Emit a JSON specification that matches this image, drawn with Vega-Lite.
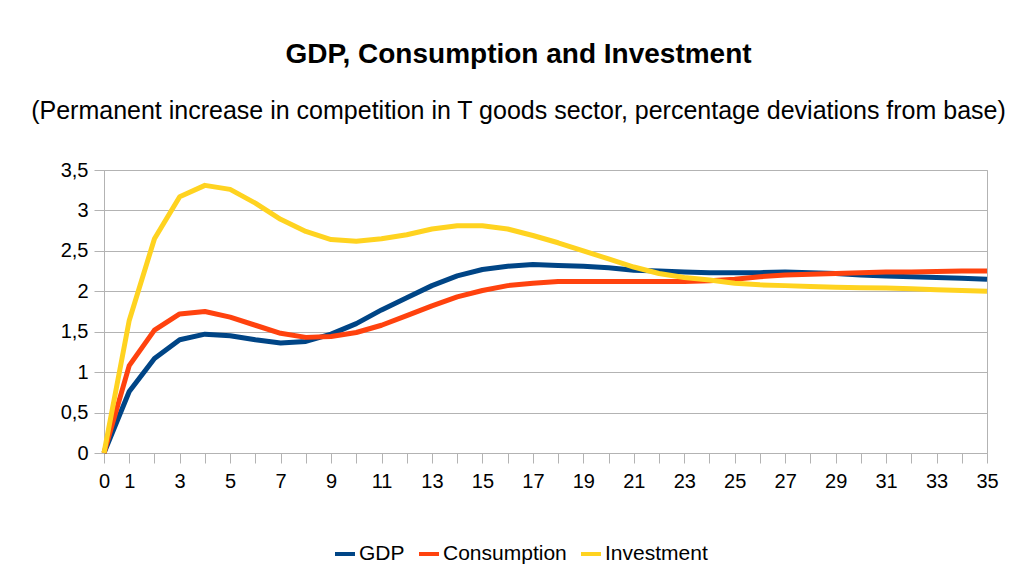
{
  "$schema": "https://vega.github.io/schema/vega-lite/v6.json",
  "width": 883,
  "height": 283,
  "autosize": {"type": "none"},
  "padding": {"left": 104, "top": 170, "right": 42, "bottom": 129},
  "background": "white",
  "title": {
    "text": "GDP, Consumption and Investment",
    "subtitle": "(Permanent increase in competition in T goods sector, percentage deviations from base)",
    "anchor": "middle",
    "dx": -27,
    "font": "Liberation Sans",
    "fontSize": 28,
    "fontWeight": "bold",
    "color": "black",
    "subtitleFont": "Liberation Sans",
    "subtitleFontSize": 25,
    "subtitleColor": "black",
    "subtitlePadding": 30,
    "offset": 36
  },
  "datasets": {
    "series": [
      {"series": "GDP", "t": 0, "value": 0}, {"series": "GDP", "t": 1, "value": 0.76}, {"series": "GDP", "t": 2, "value": 1.17}, {"series": "GDP", "t": 3, "value": 1.40}, {"series": "GDP", "t": 4, "value": 1.47}, {"series": "GDP", "t": 5, "value": 1.45}, {"series": "GDP", "t": 6, "value": 1.40}, {"series": "GDP", "t": 7, "value": 1.36}, {"series": "GDP", "t": 8, "value": 1.38}, {"series": "GDP", "t": 9, "value": 1.47}, {"series": "GDP", "t": 10, "value": 1.60}, {"series": "GDP", "t": 11, "value": 1.77}, {"series": "GDP", "t": 12, "value": 1.92}, {"series": "GDP", "t": 13, "value": 2.07}, {"series": "GDP", "t": 14, "value": 2.19}, {"series": "GDP", "t": 15, "value": 2.27}, {"series": "GDP", "t": 16, "value": 2.31}, {"series": "GDP", "t": 17, "value": 2.33}, {"series": "GDP", "t": 18, "value": 2.32}, {"series": "GDP", "t": 19, "value": 2.31}, {"series": "GDP", "t": 20, "value": 2.29}, {"series": "GDP", "t": 21, "value": 2.26}, {"series": "GDP", "t": 22, "value": 2.25}, {"series": "GDP", "t": 23, "value": 2.24}, {"series": "GDP", "t": 24, "value": 2.23}, {"series": "GDP", "t": 25, "value": 2.23}, {"series": "GDP", "t": 26, "value": 2.23}, {"series": "GDP", "t": 27, "value": 2.24}, {"series": "GDP", "t": 28, "value": 2.23}, {"series": "GDP", "t": 29, "value": 2.22}, {"series": "GDP", "t": 30, "value": 2.20}, {"series": "GDP", "t": 31, "value": 2.19}, {"series": "GDP", "t": 32, "value": 2.18}, {"series": "GDP", "t": 33, "value": 2.17}, {"series": "GDP", "t": 34, "value": 2.16}, {"series": "GDP", "t": 35, "value": 2.15},
      {"series": "Consumption", "t": 0, "value": 0}, {"series": "Consumption", "t": 1, "value": 1.08}, {"series": "Consumption", "t": 2, "value": 1.52}, {"series": "Consumption", "t": 3, "value": 1.72}, {"series": "Consumption", "t": 4, "value": 1.75}, {"series": "Consumption", "t": 5, "value": 1.68}, {"series": "Consumption", "t": 6, "value": 1.58}, {"series": "Consumption", "t": 7, "value": 1.48}, {"series": "Consumption", "t": 8, "value": 1.43}, {"series": "Consumption", "t": 9, "value": 1.44}, {"series": "Consumption", "t": 10, "value": 1.49}, {"series": "Consumption", "t": 11, "value": 1.58}, {"series": "Consumption", "t": 12, "value": 1.70}, {"series": "Consumption", "t": 13, "value": 1.82}, {"series": "Consumption", "t": 14, "value": 1.93}, {"series": "Consumption", "t": 15, "value": 2.01}, {"series": "Consumption", "t": 16, "value": 2.07}, {"series": "Consumption", "t": 17, "value": 2.10}, {"series": "Consumption", "t": 18, "value": 2.12}, {"series": "Consumption", "t": 19, "value": 2.12}, {"series": "Consumption", "t": 20, "value": 2.12}, {"series": "Consumption", "t": 21, "value": 2.12}, {"series": "Consumption", "t": 22, "value": 2.12}, {"series": "Consumption", "t": 23, "value": 2.12}, {"series": "Consumption", "t": 24, "value": 2.13}, {"series": "Consumption", "t": 25, "value": 2.15}, {"series": "Consumption", "t": 26, "value": 2.18}, {"series": "Consumption", "t": 27, "value": 2.20}, {"series": "Consumption", "t": 28, "value": 2.21}, {"series": "Consumption", "t": 29, "value": 2.22}, {"series": "Consumption", "t": 30, "value": 2.23}, {"series": "Consumption", "t": 31, "value": 2.24}, {"series": "Consumption", "t": 32, "value": 2.24}, {"series": "Consumption", "t": 33, "value": 2.245}, {"series": "Consumption", "t": 34, "value": 2.25}, {"series": "Consumption", "t": 35, "value": 2.25},
      {"series": "Investment", "t": 0, "value": 0}, {"series": "Investment", "t": 1, "value": 1.64}, {"series": "Investment", "t": 2, "value": 2.65}, {"series": "Investment", "t": 3, "value": 3.17}, {"series": "Investment", "t": 4, "value": 3.31}, {"series": "Investment", "t": 5, "value": 3.26}, {"series": "Investment", "t": 6, "value": 3.09}, {"series": "Investment", "t": 7, "value": 2.89}, {"series": "Investment", "t": 8, "value": 2.74}, {"series": "Investment", "t": 9, "value": 2.64}, {"series": "Investment", "t": 10, "value": 2.62}, {"series": "Investment", "t": 11, "value": 2.65}, {"series": "Investment", "t": 12, "value": 2.70}, {"series": "Investment", "t": 13, "value": 2.77}, {"series": "Investment", "t": 14, "value": 2.81}, {"series": "Investment", "t": 15, "value": 2.81}, {"series": "Investment", "t": 16, "value": 2.77}, {"series": "Investment", "t": 17, "value": 2.69}, {"series": "Investment", "t": 18, "value": 2.60}, {"series": "Investment", "t": 19, "value": 2.50}, {"series": "Investment", "t": 20, "value": 2.40}, {"series": "Investment", "t": 21, "value": 2.30}, {"series": "Investment", "t": 22, "value": 2.22}, {"series": "Investment", "t": 23, "value": 2.17}, {"series": "Investment", "t": 24, "value": 2.14}, {"series": "Investment", "t": 25, "value": 2.10}, {"series": "Investment", "t": 26, "value": 2.08}, {"series": "Investment", "t": 27, "value": 2.07}, {"series": "Investment", "t": 28, "value": 2.06}, {"series": "Investment", "t": 29, "value": 2.05}, {"series": "Investment", "t": 30, "value": 2.045}, {"series": "Investment", "t": 31, "value": 2.04}, {"series": "Investment", "t": 32, "value": 2.03}, {"series": "Investment", "t": 33, "value": 2.02}, {"series": "Investment", "t": 34, "value": 2.01}, {"series": "Investment", "t": 35, "value": 2.00}
    ]
  },
  "data": {"name": "series"},
  "mark": {"type": "line", "strokeWidth": 5, "strokeJoin": "round"},
  "encoding": {
    "x": {
      "field": "t",
      "type": "quantitative",
      "scale": {"domain": [0, 35], "nice": false, "zero": false},
      "axis": {
        "title": null,
        "grid": false,
        "values": [0,1,2,3,4,5,6,7,8,9,10,11,12,13,14,15,16,17,18,19,20,21,22,23,24,25,26,27,28,29,30,31,32,33,34,35],
        "labelExpr": "datum.value == 0 || datum.value % 2 == 1 ? format(datum.value, 'd') : ''",
        "labelOverlap": false,
        "labelFlush": false,
        "tickSize": 10,
        "labelPadding": 8
      }
    },
    "y": {
      "field": "value",
      "type": "quantitative",
      "scale": {"domain": [0, 3.5], "nice": false},
      "axis": {
        "title": null,
        "grid": true,
        "values": [0, 0.5, 1, 1.5, 2, 2.5, 3, 3.5],
        "labelExpr": "replace(format(datum.value, '~g'), '.', ',')",
        "tickSize": 10,
        "labelPadding": 6
      }
    },
    "color": {
      "field": "series",
      "type": "nominal",
      "sort": null,
      "scale": {"domain": ["GDP", "Consumption", "Investment"], "range": ["#004586", "#ff420e", "#ffd320"]},
      "legend": {
        "title": null,
        "orient": "none",
        "direction": "horizontal",
        "legendX": 229,
        "legendY": 372,
        "padding": 0,
        "symbolType": "stroke",
        "symbolSize": 400,
        "symbolStrokeWidth": 4,
        "labelFont": "Liberation Sans",
        "labelFontSize": 21,
        "labelColor": "black",
        "labelOffset": 2,
        "columnPadding": 6
      }
    }
  },
  "config": {
    "view": {"stroke": "#b3b3b3", "strokeWidth": 1},
    "axis": {
      "domainColor": "#b3b3b3",
      "tickColor": "#b3b3b3",
      "gridColor": "#b3b3b3",
      "labelColor": "black",
      "labelFont": "Liberation Sans",
      "labelFontSize": 20
    }
  }
}
